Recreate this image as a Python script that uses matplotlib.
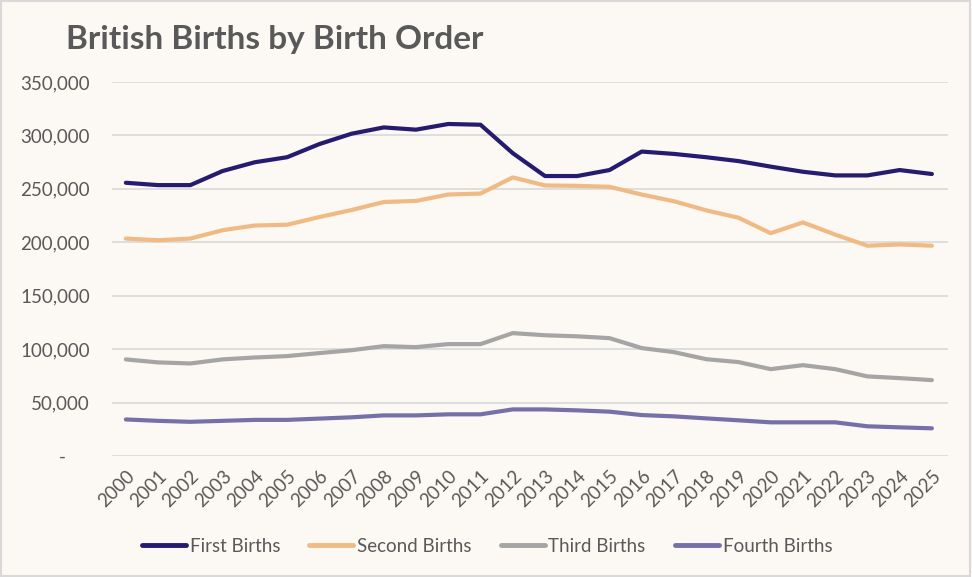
import numpy as np
import matplotlib.pyplot as plt
from matplotlib.ticker import FuncFormatter

years = [str(y) for y in range(2000, 2026)]

first = [255700, 253500, 253500, 266700, 274900, 279600, 291900, 301600, 307500, 305400,
         310700, 310000, 283400, 262000, 262000, 267600, 284900, 282700, 279600, 276000,
         270800, 266000, 262600, 262600, 267600, 263900]
second = [203500, 201900, 203500, 211300, 215700, 216400, 223600, 230200, 237700, 238700,
          244700, 245600, 260700, 253200, 252800, 251900, 244700, 238400, 229900, 223000,
          208500, 218600, 207200, 196800, 198000, 196800]
third = [90400, 87600, 86600, 90400, 92200, 93500, 96300, 99000, 102800, 101900,
         104700, 104700, 115000, 113000, 112000, 110300, 101000, 97200, 90600, 87900,
         81300, 85000, 81300, 74500, 72900, 71000]
fourth = [34200, 32900, 32000, 32900, 33800, 33800, 35000, 36200, 38000, 38000,
          39000, 39000, 43600, 43600, 42700, 41500, 38300, 37100, 35200, 33400,
          31500, 31500, 31500, 27800, 26800, 25900]

series = [("First Births", first, "#251B6F"),
          ("Second Births", second, "#EFBA84"),
          ("Third Births", third, "#A5A5A5"),
          ("Fourth Births", fourth, "#7670A9")]

plt.rcParams['font.family'] = ['Lato', 'DejaVu Sans']
bg = "#FCF8F4"
txt = "#595959"

fig = plt.figure(figsize=(9.72, 5.77), dpi=100, facecolor=bg)
ax = fig.add_axes([112/972, 121/577, 836/972, 374/577])
ax.set_facecolor(bg)

x = np.arange(len(years))
for name, vals, col in series:
    ax.plot(x, vals, color=col, lw=3.0, label=name, solid_capstyle='round', solid_joinstyle='round')

ax.set_xlim(-0.43, len(years) - 0.5)
ax.set_ylim(0, 350000)
ax.set_yticks(np.arange(0, 350001, 50000))
ax.yaxis.set_major_formatter(FuncFormatter(lambda v, p: "-     " if v == 0 else f"{int(v):,}"))
ax.grid(axis='y', color="#D9D9D9", lw=1.2)
ax.set_axisbelow(True)
for s in ax.spines.values():
    s.set_visible(False)
ax.tick_params(axis='both', length=0, colors=txt, labelsize=13.5)
ax.tick_params(axis='y', pad=16)
ax.set_xticks(x)
ax.set_xticklabels(years, rotation=45, ha='right', rotation_mode='anchor')
ax.tick_params(axis='x', pad=8)

fig.text(66/972, 1 - 40/577, "British Births by Birth Order", fontsize=24, fontweight='bold',
         color=txt, va='center', ha='left')

leg = fig.legend(loc='center', bbox_to_anchor=(487/972, 1 - 546/577), ncol=4, frameon=False,
                 fontsize=13.5, handlelength=2.35, handletextpad=0.2, columnspacing=1.55)
for t in leg.get_texts():
    t.set_color(txt)
for h in leg.get_lines():
    h.set_linewidth(3.5)

fig.patches.append(plt.Rectangle((0.001, 0.001), 0.997, 0.997, transform=fig.transFigure,
                                 fill=False, edgecolor="#D9D9D9", lw=1.5))

fig.savefig("out.png", dpi=100, facecolor=bg)
